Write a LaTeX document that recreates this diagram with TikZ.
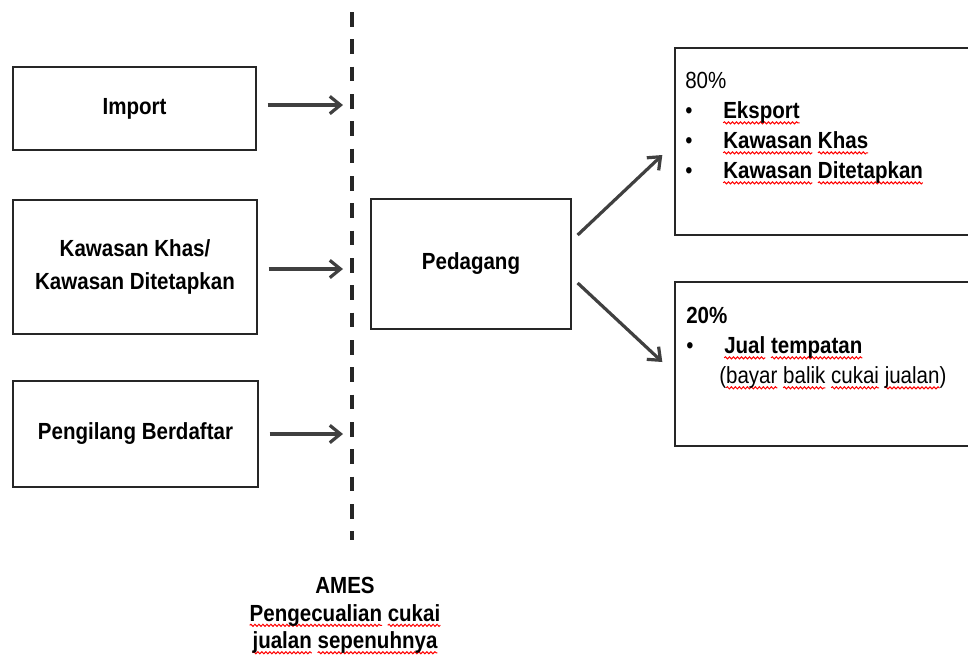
\documentclass[tikz,border=0pt]{standalone}
\usepackage{fontspec}
\setmainfont{Liberation Sans}[FakeStretch=0.88]
\usetikzlibrary{arrows.meta,decorations.pathmorphing}
\newsavebox{\sqbox}
\newcommand{\sq}[1]{\sbox{\sqbox}{#1}\tikz[overlay,baseline=0pt,x=1pt,y=1pt]
  \draw[red,line width=0.75pt,decorate,decoration={snake,amplitude=0.8pt,segment length=3pt}]
  (0,-3.2) -- (\wd\sqbox,-3.2);\usebox{\sqbox}}

\begin{document}
\begin{tikzpicture}[x=0.75pt,y=-0.75pt,
    box/.style={draw=black!85,line width=1pt,align=center,inner sep=0pt,
      font=\bfseries\fontsize{17.5}{25}\selectfont},
    txt/.style={align=left,inner sep=0pt,font=\fontsize{17.5}{22.5}\selectfont},
    arr/.style={-{Straight Barb[length=8pt,width=13pt]},line width=2.4pt,draw=black!75},
    divider/.style={draw=black!85,line width=2.3pt,dash pattern=on 10.9pt off 9.6pt}]
    \useasboundingbox (0,0) rectangle (968,658);
    \node[box,minimum width=182.25pt,minimum height=62.25pt] (imp) at (134.5,108.5) {Import};
    \node[box,minimum width=183pt,minimum height=100.5pt] (kaw) at (135,267) {Kawasan Khas/\\Kawasan Ditetapkan};
    \node[box,minimum width=183.75pt,minimum height=79.5pt] (pen) at (135.5,434) {Pengilang Berdaftar};
    \node[box,minimum width=150pt,minimum height=97.5pt] (ped) at (471,264) {Pedagang};
    \node[box,minimum width=236.25pt,minimum height=140.25pt] (b80) at (832.5,141.5) {};
    \node[box,minimum width=236.25pt,minimum height=123pt] (b20) at (832.5,364) {};
    \node[txt,anchor=north west] (t80) at (685,72) {80\%\\
      \makebox[28.5pt][l]{\textbullet}\textbf{\sq{Eksport}}\\
      \makebox[28.5pt][l]{\textbullet}\textbf{\sq{Kawasan} \sq{Khas}}\\
      \makebox[28.5pt][l]{\textbullet}\textbf{\sq{Kawasan} \sq{Ditetapkan}}};
    \node[txt,anchor=north west] (t20) at (686,307) {\textbf{20\%}\\
      \makebox[28.5pt][l]{\textbullet}\textbf{\sq{Jual} \sq{tempatan}}\\
      \hspace*{24.75pt}(\sq{bayar} \sq{balik} \sq{cukai} \sq{jualan})};
    \node[txt,align=center,anchor=north,font=\bfseries\fontsize{17.5}{20.6}\selectfont] (ames) at (345,577)
      {AMES\\\sq{Pengecualian} \sq{cukai}\\\sq{jualan} \sq{sepenuhnya}};
    \coordinate (top) at (352,12);
    \coordinate (bot) at (352,540);
    \draw[divider] (top) -- (bot);
    \draw[arr,shorten <=8.25pt,shorten >=6.75pt] ([yshift=2.6pt]imp.east) -- ([yshift=2.6pt]imp.east -| top);
    \draw[arr,shorten <=8.25pt,shorten >=6.75pt] ([yshift=-1.5pt]kaw.east) -- ([yshift=-1.5pt]kaw.east -| top);
    \draw[arr,shorten <=8.25pt,shorten >=6.75pt] (pen.east) -- (pen.east -| top);
    \draw[arr] ([shift={(6,-29)}]ped.east) -- ([shift={(-12,13.5)}]b80.west);
    \draw[arr] ([shift={(6,19)}]ped.east) -- ([shift={(-12,-2)}]b20.west);
\end{tikzpicture}
\end{document}
